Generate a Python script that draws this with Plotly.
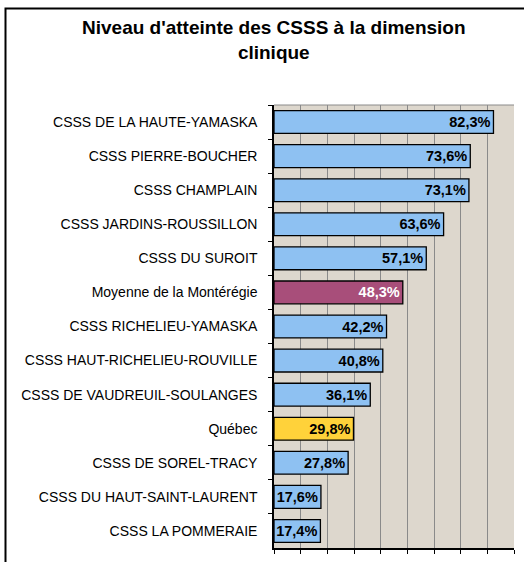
import plotly.graph_objects as go

categories = ["CSSS DE LA HAUTE-YAMASKA", "CSSS PIERRE-BOUCHER", "CSSS CHAMPLAIN",
              "CSSS JARDINS-ROUSSILLON", "CSSS DU SUROIT", "Moyenne de la Montérégie",
              "CSSS RICHELIEU-YAMASKA", "CSSS HAUT-RICHELIEU-ROUVILLE",
              "CSSS DE VAUDREUIL-SOULANGES", "Québec", "CSSS DE SOREL-TRACY",
              "CSSS DU HAUT-SAINT-LAURENT", "CSSS LA POMMERAIE"]
values = [0.823, 0.736, 0.731, 0.636, 0.571, 0.483, 0.422, 0.408, 0.361, 0.298, 0.278, 0.176, 0.174]
title_text = "<b>Niveau d'atteinte des CSSS à la dimension<br>clinique</b>"

W, H = 524, 562
L, R, T, B = 274, 10, 105, 14
PW, PH = W - L - R, H - T - B

def color_for(c):
    if c.startswith("Moyenne"):
        return "#A84E7A"
    if c == "Québec":
        return "#FFD23A"
    return "#8EC1F2"

def text_color(c):
    return "white" if c.startswith("Moyenne") else "black"

FONT = "Arial, Liberation Sans, sans-serif"

fig = go.Figure(go.Bar(
    y=categories, x=values, orientation="h",
    marker=dict(color=[color_for(c) for c in categories],
                line=dict(color="black", width=1.3)),
    texttemplate="%{x:.1%}", textposition="inside", insidetextanchor="end",
    constraintext="none",
    textfont=dict(family=FONT, size=14.5,
                  color=[text_color(c) for c in categories], weight="bold"),
    width=0.67, hoverinfo="skip",
))

fig.update_layout(
    width=W, height=H,
    margin=dict(l=L, r=R, t=T, b=B),
    paper_bgcolor="white", plot_bgcolor="#DDD7CD",
    separators=", ",
    showlegend=False,
    font=dict(family=FONT, color="black"),
)
fig.add_annotation(text=title_text, xref="paper", yref="paper",
                   x=(274 - L) / PW, xanchor="center",
                   y=(H - B - 15) / PH, yanchor="top", showarrow=False,
                   font=dict(size=19, family=FONT, color="black"))
fig.update_xaxes(range=[0, 0.9], dtick=0.1, showgrid=True, gridcolor="#8A8A8A", gridwidth=1,
                 showticklabels=False, ticks="outside", ticklen=4, tickcolor="black",
                 showline=True, linecolor="black", linewidth=1.5, zeroline=False, fixedrange=True)
fig.update_yaxes(autorange="reversed", tickson="boundaries", ticks="outside", ticklen=4,
                 tickcolor="black", showline=True, linecolor="black", linewidth=1.5,
                 showgrid=False, ticklabelstandoff=12, fixedrange=True,
                 tickfont=dict(size=14, family=FONT, color="black"))

# top grid edge
fig.add_shape(type="line", xref="paper", yref="paper", x0=0, x1=1, y0=1, y1=1,
              line=dict(color="#8A8A8A", width=1))
# outer chart frame
fig.add_shape(type="rect", xref="paper", yref="paper",
              x0=(5.5 - L) / PW, x1=1.2, y0=-0.1, y1=(H - B - 8.5) / PH,
              line=dict(color="black", width=2))

fig.write_html("out.html", config={"displayModeBar": False},
               post_script="document.body.style.margin='0';document.body.style.overflow='hidden';")
